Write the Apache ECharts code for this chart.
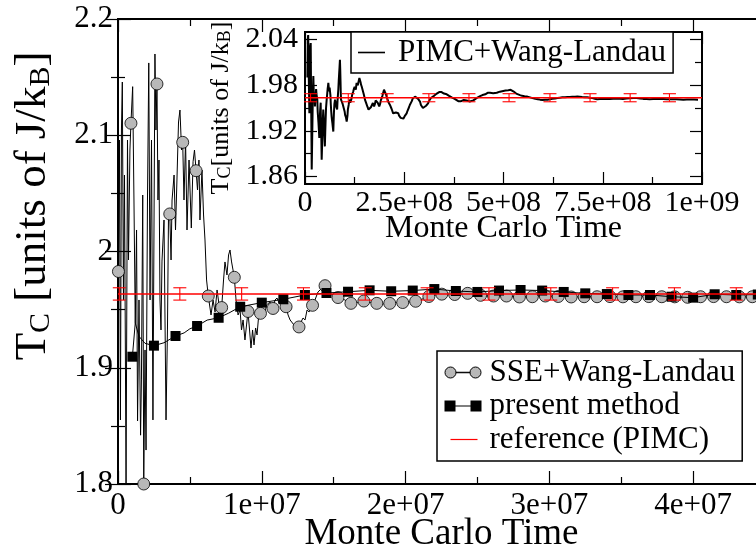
<!DOCTYPE html>
<html>
<head>
<meta charset="utf-8">
<script src="https://cdn.jsdelivr.net/npm/echarts@6/dist/echarts.min.js"></script>
<style>
  html, body { margin: 0; padding: 0; background: #fff; }
  #chart { width: 756px; height: 550px; }
</style>
</head>
<body>
<div id="chart"></div>
<script>
// ---- Main panel: Monte Carlo time in millions of steps, Tc in J/kB ----
const sseTimeM = [0.03,0.10,0.17,0.24,0.30,0.38,0.45,0.56,0.66,0.73,0.83,0.90,1.02,1.11,1.20,1.29,1.36,1.46,1.57,1.63,1.72,1.79,1.88,1.95,2.05,2.14,2.23,2.33,2.43,2.57,2.64,2.71,2.78,2.85,2.92,2.99,3.06,3.20,3.34,3.44,3.51,3.60,3.69,3.76,3.90,4.00,4.10,4.21,4.31,4.42,4.50,4.59,4.70,4.80,4.94,5.10,5.22,5.32,5.43,5.53,5.63,5.70,5.84,5.95,6.05,6.16,6.28,6.47,6.61,6.75,6.89,7.03,7.21,7.34,7.44,7.58,7.69,7.79,7.90,8.00,8.09,8.21,8.35,8.49,8.59,8.70,8.83,8.94,9.04,9.15,9.25,9.36,9.46,9.57,9.67,9.77,9.91,10.05,10.19,10.33,10.43,10.57,10.78,10.92,11.06,11.20,11.34,11.48,11.69,11.83,11.97,12.10,12.24,12.38,12.59,12.73,12.87,13.01,13.15,13.29,13.53,13.70,13.91,14.12,14.40,14.61,14.82,15.03,15.30,15.75,16.20,16.65,17.10,17.55,18.00,18.45,18.90,19.35,19.80,20.25,20.70,21.15,21.62,22.07,22.52,22.97,23.42,23.87,24.32,24.77,25.22,25.67,26.12,26.57,27.02,27.47,27.92,28.37,28.82,29.27,29.72,30.17,30.62,31.07,31.52,31.97,32.42,33.32,34.22,35.12,36.02,36.92,37.82,38.72,39.62,40.52,41.42,42.32,43.22,44.12];
const sseTc = [1.9828,2.0959,1.8551,2.1045,2.1458,1.9583,2.0658,1.8000,2.0959,1.9927,2.0873,2.1103,2.1418,2.0443,1.9385,2.0185,1.8542,1.9583,1.8420,1.8895,2.0486,1.8000,1.9153,1.8292,2.0443,2.1622,1.9583,2.0959,1.8551,2.1699,2.1045,2.1441,2.0443,2.0787,1.9583,1.9325,1.9918,2.0271,1.8551,1.9325,2.0271,2.0323,1.9927,2.0443,2.0658,2.0185,2.0615,2.1114,2.1217,2.0873,2.0939,2.0443,2.0959,2.0185,2.0787,2.0202,2.0772,2.0873,2.0695,2.0529,2.0787,2.0271,2.0701,2.0314,2.0099,1.9755,1.9617,1.9454,1.9583,1.9480,1.9669,1.9540,1.9518,1.9755,1.9910,1.9798,1.9970,2.0013,1.9910,1.9841,1.9778,1.9583,1.9454,1.9497,1.9325,1.9411,1.9239,1.9368,1.9484,1.9325,1.9170,1.9325,1.9196,1.9342,1.9282,1.9428,1.9468,1.9514,1.9454,1.9540,1.9523,1.9566,1.9510,1.9583,1.9600,1.9557,1.9609,1.9566,1.9525,1.9454,1.9411,1.9428,1.9368,1.9325,1.9351,1.9394,1.9428,1.9411,1.9497,1.9480,1.9537,1.9583,1.9652,1.9677,1.9706,1.9669,1.9626,1.9634,1.9604,1.9585,1.9554,1.9560,1.9574,1.9562,1.9554,1.9550,1.9554,1.9560,1.9561,1.9566,1.9572,1.9590,1.9613,1.9625,1.9633,1.9628,1.9630,1.9636,1.9640,1.9632,1.9623,1.9618,1.9617,1.9619,1.9617,1.9612,1.9609,1.9610,1.9611,1.9615,1.9617,1.9614,1.9613,1.9611,1.9609,1.9610,1.9611,1.9611,1.9612,1.9610,1.9611,1.9612,1.9611,1.9610,1.9606,1.9611,1.9612,1.9611,1.9610,1.9611];

// circle markers on the SSE+Wang-Landau run
const sseMarkTimeM = [0.03,0.90,1.79,2.71,3.60,4.50,5.43,6.28,7.21,8.09,9.04,9.91,10.78,11.69,12.59,13.53,14.40,15.30,16.20,17.10,18.00,18.90,19.80,20.70,21.62,22.52,23.42,24.32,25.22,26.12,27.02,27.92,28.82,29.72,30.62,31.52,32.42,33.32,34.22,35.12,36.02,36.92,37.82,38.72,39.62,40.52,41.42,42.32,43.22,44.12];
const sseMarkTc = [1.9828,2.1103,1.8000,2.1441,2.0323,2.0939,2.0695,1.9617,1.9518,1.9778,1.9484,1.9468,1.9510,1.9525,1.9351,1.9537,1.9706,1.9604,1.9554,1.9574,1.9554,1.9554,1.9561,1.9572,1.9613,1.9633,1.9630,1.9640,1.9623,1.9617,1.9617,1.9609,1.9611,1.9617,1.9613,1.9609,1.9611,1.9611,1.9612,1.9610,1.9611,1.9612,1.9611,1.9610,1.9606,1.9611,1.9612,1.9611,1.9610,1.9611];

// present method
const presentTimeM = [1.0,1.2,1.46,1.88,2.5,3.2,4.0,4.6,5.0,5.5,6.2,7.0,7.7,8.5,10.0,11.5,13.0,14.5,16.0,17.5,19.0,20.5,22.0,23.5,25.0,26.5,28.0,29.5,31.0,32.5,34.0,35.5,37.0,38.5,40.0,41.5,43.0,44.5];
const presentTc = [1.9095,1.9385,1.9270,1.9210,1.9190,1.9215,1.9273,1.9300,1.9335,1.9359,1.9410,1.9430,1.9470,1.9525,1.9560,1.9589,1.9626,1.9643,1.9654,1.9666,1.9658,1.9664,1.9677,1.9660,1.9652,1.9664,1.9669,1.9664,1.9652,1.9640,1.9634,1.9626,1.9626,1.9611,1.9603,1.9632,1.9626,1.9630];
const presentMarkTimeM = [1.0,2.5,4.0,5.5,7.0,8.5,10.0,11.5,13.0,14.5,16.0,17.5,19.0,20.5,22.0,23.5,25.0,26.5,28.0,29.5,31.0,32.5,34.0,35.5,37.0,38.5,40.0,41.5,43.0,44.5];
const presentMarkTc = [1.9095,1.9190,1.9273,1.9359,1.9430,1.9525,1.9560,1.9589,1.9626,1.9643,1.9654,1.9666,1.9658,1.9664,1.9677,1.9660,1.9652,1.9664,1.9669,1.9664,1.9652,1.9640,1.9634,1.9626,1.9626,1.9611,1.9603,1.9632,1.9626,1.9630];

// PIMC reference value and its error bars
const pimcRefTc = 1.9635;
const pimcRefErr = 0.0053;
const refSpanM = [0, 45];
const refBarTimeM = [0.09,4.3,8.6,12.9,17.2,21.5,25.8,30.1,34.4,38.7,43.0];

// ---- Inset: Monte Carlo time in billions of steps ----
const pimcWLTimeG = [0.006,0.007,0.008,0.009,0.010,0.011,0.012,0.013,0.0144,0.015,0.016,0.0169,0.018,0.019,0.020,0.021,0.022,0.023,0.024,0.025,0.026,0.028,0.029,0.031,0.032,0.034,0.035,0.036,0.037,0.038,0.0395,0.040,0.041,0.042,0.043,0.044,0.045,0.046,0.047,0.048,0.049,0.050,0.051,0.052,0.053,0.0546,0.056,0.057,0.058,0.0588,0.060,0.061,0.062,0.063,0.064,0.065,0.066,0.067,0.068,0.069,0.070,0.0713,0.072,0.073,0.074,0.0756,0.077,0.078,0.079,0.081,0.082,0.084,0.085,0.086,0.087,0.088,0.0888,0.0895,0.090,0.0907,0.092,0.093,0.095,0.0965,0.098,0.100,0.101,0.103,0.104,0.105,0.107,0.108,0.110,0.111,0.113,0.114,0.116,0.117,0.119,0.120,0.1217,0.123,0.125,0.126,0.128,0.129,0.130,0.132,0.133,0.135,0.137,0.138,0.140,0.141,0.143,0.145,0.147,0.149,0.151,0.153,0.155,0.157,0.158,0.160,0.162,0.164,0.166,0.168,0.169,0.171,0.172,0.174,0.176,0.178,0.181,0.183,0.185,0.187,0.189,0.191,0.193,0.195,0.197,0.199,0.2015,0.204,0.206,0.208,0.210,0.212,0.214,0.216,0.218,0.220,0.222,0.224,0.2267,0.229,0.231,0.233,0.235,0.237,0.239,0.241,0.243,0.245,0.2477,0.250,0.252,0.254,0.256,0.258,0.260,0.262,0.264,0.266,0.269,0.271,0.274,0.277,0.2796,0.282,0.285,0.287,0.290,0.292,0.295,0.297,0.2997,0.302,0.305,0.307,0.310,0.312,0.315,0.317,0.319,0.322,0.325,0.328,0.332,0.335,0.338,0.341,0.344,0.347,0.350,0.353,0.357,0.360,0.363,0.366,0.3695,0.373,0.377,0.381,0.386,0.388,0.390,0.392,0.394,0.397,0.400,0.403,0.407,0.411,0.415,0.419,0.424,0.428,0.432,0.436,0.441,0.444,0.447,0.450,0.454,0.457,0.460,0.463,0.466,0.470,0.474,0.478,0.483,0.487,0.491,0.495,0.4995,0.505,0.512,0.518,0.5247,0.528,0.532,0.537,0.5416,0.547,0.553,0.560,0.567,0.573,0.580,0.586,0.592,0.598,0.605,0.611,0.617,0.623,0.630,0.636,0.642,0.648,0.655,0.661,0.667,0.673,0.680,0.686,0.692,0.698,0.705,0.711,0.718,0.724,0.730,0.736,0.743,0.751,0.760,0.768,0.776,0.784,0.793,0.801,0.810,0.818,0.827,0.835,0.844,0.852,0.860,0.868,0.877,0.885,0.894,0.902,0.911,0.919,0.928,0.936,0.945,0.953,0.962,0.971,0.980,0.990,1.000];
const pimcWLTc = [1.990,2.040,2.046,2.010,1.975,1.943,1.985,2.030,2.0355,1.990,1.930,1.869,1.905,1.940,1.975,1.992,1.972,1.960,1.966,1.952,1.962,1.975,1.968,1.961,1.945,1.930,1.921,1.9105,1.930,1.945,1.957,1.938,1.915,1.882,1.900,1.920,1.935,1.948,1.937,1.925,1.911,1.8995,1.918,1.935,1.950,1.961,1.969,1.975,1.979,1.983,1.976,1.972,1.977,1.978,1.967,1.955,1.946,1.939,1.934,1.930,1.925,1.919,1.931,1.945,1.955,1.961,1.958,1.955,1.951,1.948,1.960,1.975,1.986,1.995,2.004,2.0135,2.000,1.985,1.972,1.961,1.960,1.958,1.955,1.952,1.949,1.945,1.941,1.938,1.935,1.932,1.940,1.948,1.954,1.958,1.961,1.957,1.955,1.962,1.968,1.970,1.972,1.975,1.978,1.976,1.974,1.979,1.983,1.982,1.980,1.985,1.9895,1.987,1.984,1.981,1.978,1.974,1.970,1.966,1.961,1.958,1.955,1.952,1.950,1.948,1.9455,1.948,1.951,1.953,1.952,1.9566,1.954,1.952,1.955,1.960,1.958,1.957,1.955,1.952,1.955,1.960,1.963,1.966,1.970,1.974,1.971,1.968,1.964,1.961,1.958,1.956,1.954,1.952,1.949,1.946,1.943,1.941,1.943,1.944,1.946,1.9455,1.943,1.940,1.938,1.937,1.936,1.9346,1.936,1.938,1.940,1.941,1.943,1.946,1.948,1.951,1.954,1.9566,1.959,1.962,1.964,1.965,1.964,1.963,1.962,1.961,1.958,1.954,1.952,1.950,1.951,1.952,1.953,1.9538,1.956,1.959,1.961,1.9632,1.964,1.965,1.966,1.9675,1.969,1.970,1.971,1.972,1.971,1.970,1.969,1.9697,1.968,1.967,1.966,1.965,1.964,1.963,1.962,1.961,1.959,1.957,1.958,1.9588,1.959,1.960,1.9605,1.961,1.960,1.959,1.9585,1.9587,1.960,1.962,1.963,1.965,1.9655,1.966,1.967,1.9675,1.968,1.969,1.970,1.9705,1.970,1.969,1.9695,1.9697,1.970,1.971,1.9715,1.972,1.9725,1.973,1.9735,1.974,1.972,1.971,1.969,1.9675,1.967,1.966,1.9655,1.965,1.964,1.963,1.962,1.9616,1.961,1.9605,1.9608,1.961,1.9615,1.962,1.9625,1.9632,1.9636,1.964,1.9642,1.9645,1.9646,1.9648,1.9649,1.965,1.9648,1.9645,1.9642,1.964,1.9635,1.963,1.9622,1.9616,1.9618,1.962,1.962,1.962,1.9622,1.9625,1.9622,1.962,1.9624,1.9628,1.963,1.9632,1.9626,1.962,1.9618,1.9616,1.9619,1.962,1.9619,1.9618,1.9616,1.9614,1.9615,1.9616,1.9613,1.961,1.9611,1.9612,1.9611,1.961];
const insetRefSpanG = [0, 1];
const insetBarTimeG = [0.014,0.109,0.207,0.312,0.413,0.514,0.617,0.718,0.819,0.918];

// ---- Tick values and their labels ----
const mainXTicks = [0, 1e7, 2e7, 3e7, 4e7];
const mainXTickLabels = ['0', '1e+07', '2e+07', '3e+07', '4e+07'];
const mainXMinorTicks = [5e6, 1.5e7, 2.5e7, 3.5e7];
const mainYTicks = [1.8, 1.9, 2.0, 2.1, 2.2];
const mainYTickLabels = ['1.8', '1.9', '2', '2.1', '2.2'];
const insetXTicks = [0, 2.5e8, 5e8, 7.5e8, 1e9];
const insetXTickLabels = ['0', '2.5e+08', '5e+08', '7.5e+08', '1e+09'];
const insetYTicks = [1.86, 1.92, 1.98, 2.04];
const insetYTickLabels = ['1.86', '1.92', '1.98', '2.04'];
const insetYMinorTicks = [1.89, 1.95, 2.01];

const FONT = '"Liberation Serif", "Times New Roman", serif';
const tickLine = { color: '#000', width: 1.2 };

function labelFor(ticks, labels) {
  return function (v) {
    for (let i = 0; i < ticks.length; i++) {
      if (Math.abs(ticks[i] - v) <= 1e-9 * Math.max(1, Math.abs(v))) return labels[i];
    }
    return '';
  };
}
function pairs(xs, ys, scale) {
  return xs.map((x, i) => [x * scale, ys[i]]);
}
// bare value axis carrying only tick marks
function tickAxis(opts, values, len) {
  return Object.assign({
    type: 'value',
    axisLine: { show: false },
    splitLine: { show: false },
    axisLabel: { show: false },
    axisTick: { show: true, inside: true, length: len, lineStyle: tickLine, customValues: values }
  }, opts);
}
function errorBars(params, api) {
  const x = api.value(0), y = api.value(1), e = api.value(2);
  const top = api.coord([x, y + e]);
  const bot = api.coord([x, y - e]);
  const hw = 6.5;
  const st = { stroke: '#ff0000', lineWidth: 1.1 };
  return {
    type: 'group',
    children: [
      { type: 'line', shape: { x1: top[0], y1: top[1], x2: bot[0], y2: bot[1] }, style: st },
      { type: 'line', shape: { x1: top[0] - hw, y1: top[1], x2: top[0] + hw, y2: top[1] }, style: st },
      { type: 'line', shape: { x1: bot[0] - hw, y1: bot[1], x2: bot[0] + hw, y2: bot[1] }, style: st }
    ]
  };
}

const chart = echarts.init(document.getElementById('chart'), null, { renderer: 'canvas' });

const option = {
  animation: false,
  backgroundColor: '#fff',
  grid: [
    { left: 118, top: 19, right: -9, bottom: 66, outerBoundsMode: 'none', containLabel: false,
      show: true, borderColor: '#000', borderWidth: 2, backgroundColor: 'transparent' },
    { left: 305, top: 32, right: 54, bottom: 366, outerBoundsMode: 'none', containLabel: false,
      show: true, borderColor: '#000', borderWidth: 2, backgroundColor: '#fff' }
  ],
  legend: [
    {
      orient: 'vertical', left: 437, top: 351,
      padding: [6, 7, 6, 7], itemGap: 2.5, itemWidth: 40, itemHeight: 12,
      backgroundColor: '#fff', borderColor: '#000', borderWidth: 1.5,
      selectedMode: false,
      textStyle: { fontFamily: FONT, fontSize: 31, color: '#000', lineHeight: 30 },
      data: [
        { name: 'SSE+Wang-Landau',
          icon: 'path://M0,0M40,12M0.5,6A5.5,5.5,0,1,1,11.5,6A5.5,5.5,0,1,1,0.5,6Z M11.5,5.75H25.5V6.25H11.5Z M25.5,6A5.5,5.5,0,1,1,36.5,6A5.5,5.5,0,1,1,25.5,6Z',
          itemStyle: { color: '#b8b8b8', borderColor: '#000', borderWidth: 1 } },
        { name: 'present method',
          icon: 'path://M0,0M40,12M0,0.5H11V11.5H0Z M11,5.5H26V6.5H11Z M26,0.5H37V11.5H26Z',
          itemStyle: { color: '#000', borderWidth: 0 } },
        { name: 'reference (PIMC)',
          icon: 'path://M0,0M40,12M6,5.4H33V6.6H6Z',
          itemStyle: { color: '#ff0000', borderWidth: 0 } }
      ]
    },
    {
      orient: 'vertical', left: 351, top: 32,
      padding: [5, 7, 5, 7], itemWidth: 35, itemHeight: 12,
      backgroundColor: '#fff', borderColor: '#000', borderWidth: 1.5,
      selectedMode: false,
      textStyle: { fontFamily: FONT, fontSize: 31, color: '#000', lineHeight: 30 },
      data: [
        { name: 'PIMC+Wang-Landau',
          icon: 'path://M0,0M35,12M0,5.2H27V6.8H0Z',
          itemStyle: { color: '#000', borderWidth: 0 } }
      ]
    }
  ],
  xAxis: [
    // main panel, bottom
    {
      gridIndex: 0, type: 'value', min: 0, max: 45e6, position: 'bottom',
      axisLine: { show: false }, splitLine: { show: false },
      axisTick: { show: true, inside: true, length: 13, lineStyle: tickLine, customValues: mainXTicks },
      axisLabel: { show: true, customValues: mainXTicks, formatter: labelFor(mainXTicks, mainXTickLabels),
                   fontFamily: FONT, fontSize: 31, color: '#000', margin: 6 },
      name: 'Monte Carlo Time', nameLocation: 'middle', nameGap: 32, nameMoveOverlap: false,
      nameTextStyle: { fontFamily: FONT, fontSize: 37, color: '#000' }
    },
    tickAxis({ gridIndex: 0, min: 0, max: 45e6, position: 'bottom' }, mainXMinorTicks, 7),
    tickAxis({ gridIndex: 0, min: 0, max: 45e6, position: 'top' }, mainXTicks, 13),
    tickAxis({ gridIndex: 0, min: 0, max: 45e6, position: 'top' }, mainXMinorTicks, 7),
    // inset, bottom
    {
      gridIndex: 1, type: 'value', min: 0, max: 1e9, interval: 2.5e8, position: 'bottom',
      axisLine: { show: false }, splitLine: { show: false },
      axisTick: { show: true, inside: true, length: 12, lineStyle: tickLine },
      minorTick: { show: true, splitNumber: 2, length: 7, lineStyle: tickLine },
      axisLabel: { show: true, customValues: insetXTicks, formatter: labelFor(insetXTicks, insetXTickLabels),
                   fontFamily: FONT, fontSize: 30, color: '#000', margin: 4 },
      name: 'Monte Carlo Time', nameLocation: 'middle', nameGap: 29, nameMoveOverlap: false,
      nameTextStyle: { fontFamily: FONT, fontSize: 32, color: '#000' }
    },
    {
      gridIndex: 1, type: 'value', min: 0, max: 1e9, interval: 2.5e8, position: 'top',
      axisLine: { show: false }, splitLine: { show: false }, axisLabel: { show: false },
      axisTick: { show: true, inside: true, length: 12, lineStyle: tickLine },
      minorTick: { show: true, splitNumber: 2, length: 7, lineStyle: tickLine }
    }
  ],
  yAxis: [
    // main panel
    {
      gridIndex: 0, type: 'value', min: 1.8, max: 2.2, interval: 0.1, position: 'left',
      axisLine: { show: false }, splitLine: { show: false },
      axisTick: { show: true, inside: true, length: 13, lineStyle: tickLine },
      minorTick: { show: true, splitNumber: 2, length: 7, lineStyle: tickLine },
      axisLabel: { show: true, customValues: mainYTicks, formatter: labelFor(mainYTicks, mainYTickLabels),
                   fontFamily: FONT, fontSize: 31, color: '#000', margin: 5 },
      name: 'T{sub|C} [units of J/k{sub|B}]', nameLocation: 'middle', nameRotate: 90, nameGap: 62,
      nameTextStyle: {
        fontFamily: FONT, fontSize: 45, color: '#000', lineHeight: 45, padding: [0, 0, 0, 91],
        rich: { sub: { fontFamily: FONT, fontSize: 30, color: '#000', lineHeight: 20, verticalAlign: 'bottom' } }
      }
    },
    {
      gridIndex: 0, type: 'value', min: 1.8, max: 2.2, interval: 0.1, position: 'right',
      axisLine: { show: false }, splitLine: { show: false }, axisLabel: { show: false },
      axisTick: { show: true, inside: true, length: 13, lineStyle: tickLine },
      minorTick: { show: true, splitNumber: 2, length: 7, lineStyle: tickLine }
    },
    // inset
    {
      gridIndex: 1, type: 'value', min: 1.85, max: 2.05, position: 'left',
      axisLine: { show: false }, splitLine: { show: false },
      axisTick: { show: true, inside: true, length: 12, lineStyle: tickLine, customValues: insetYTicks },
      axisLabel: { show: true, customValues: insetYTicks, formatter: labelFor(insetYTicks, insetYTickLabels),
                   fontFamily: FONT, fontSize: 30, color: '#000', margin: 7 },
      name: 'T{sub|C}[units of J/k{sub|B}]', nameLocation: 'middle', nameRotate: 90, nameGap: 66,
      nameTextStyle: {
        fontFamily: FONT, fontSize: 26, color: '#000', lineHeight: 26,
        rich: { sub: { fontFamily: FONT, fontSize: 18, color: '#000', lineHeight: 12, verticalAlign: 'bottom' } }
      }
    },
    tickAxis({ gridIndex: 1, min: 1.85, max: 2.05, position: 'left' }, insetYMinorTicks, 7),
    tickAxis({ gridIndex: 1, min: 1.85, max: 2.05, position: 'right' }, insetYTicks, 12),
    tickAxis({ gridIndex: 1, min: 1.85, max: 2.05, position: 'right' }, insetYMinorTicks, 7)
  ],
  series: [
    {
      name: 'SSE+Wang-Landau', type: 'line', xAxisIndex: 0, yAxisIndex: 0,
      data: pairs(sseTimeM, sseTc, 1e6), symbol: 'none',
      lineStyle: { color: '#000', width: 1 }, itemStyle: { color: '#b8b8b8' }, z: 2
    },
    {
      name: 'SSE+Wang-Landau', type: 'scatter', xAxisIndex: 0, yAxisIndex: 0,
      data: pairs(sseMarkTimeM, sseMarkTc, 1e6), symbol: 'circle', symbolSize: 12,
      itemStyle: { color: '#b8b8b8', borderColor: '#000', borderWidth: 0.8, opacity: 1 }, z: 3
    },
    {
      name: 'present method', type: 'line', xAxisIndex: 0, yAxisIndex: 0,
      data: pairs(presentTimeM, presentTc, 1e6), symbol: 'none',
      lineStyle: { color: '#000', width: 1 }, itemStyle: { color: '#000' }, z: 4
    },
    {
      name: 'present method', type: 'scatter', xAxisIndex: 0, yAxisIndex: 0,
      data: pairs(presentMarkTimeM, presentMarkTc, 1e6), symbol: 'rect', symbolSize: 10,
      itemStyle: { color: '#000', opacity: 1 }, z: 5
    },
    {
      name: 'reference (PIMC)', type: 'line', xAxisIndex: 0, yAxisIndex: 0,
      data: refSpanM.map(t => [t * 1e6, pimcRefTc]), symbol: 'none',
      lineStyle: { color: '#ff0000', width: 1.4 }, itemStyle: { color: '#ff0000' }, z: 6
    },
    {
      name: 'reference (PIMC)', type: 'custom', xAxisIndex: 0, yAxisIndex: 0,
      data: refBarTimeM.map(t => [t * 1e6, pimcRefTc, pimcRefErr]),
      renderItem: errorBars, z: 6
    },
    {
      name: 'PIMC+Wang-Landau', type: 'line', xAxisIndex: 4, yAxisIndex: 2,
      data: pairs(pimcWLTimeG, pimcWLTc, 1e9), symbol: 'none',
      lineStyle: { color: '#000', width: 2 }, itemStyle: { color: '#000' }, z: 2
    },
    {
      name: 'PIMC reference', type: 'line', xAxisIndex: 4, yAxisIndex: 2,
      data: insetRefSpanG.map(t => [t * 1e9, pimcRefTc]), symbol: 'none',
      lineStyle: { color: '#ff0000', width: 1.4 }, z: 3
    },
    {
      name: 'PIMC reference', type: 'custom', xAxisIndex: 4, yAxisIndex: 2,
      data: insetBarTimeG.map(t => [t * 1e9, pimcRefTc, pimcRefErr]),
      renderItem: errorBars, z: 3
    }
  ]
};

chart.setOption(option);
</script>
</body>
</html>
